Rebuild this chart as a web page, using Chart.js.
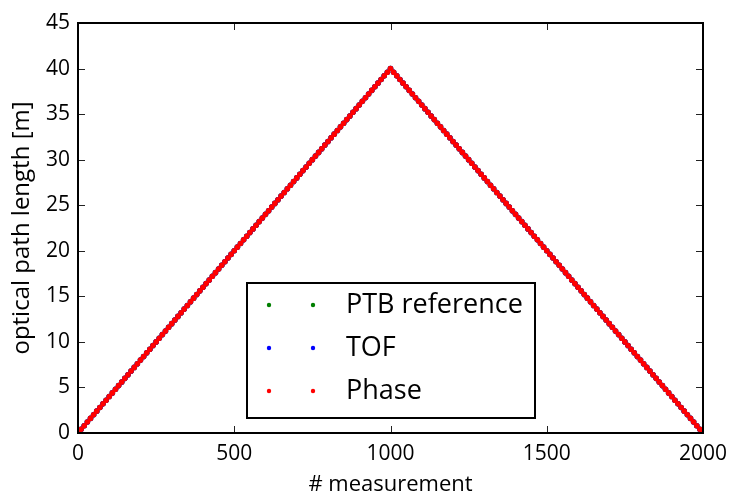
<!DOCTYPE html>
<html>
<head>
<meta charset="utf-8">
<script src="https://cdn.jsdelivr.net/npm/chart.js@4/dist/chart.umd.min.js"></script>
<style>
html,body{margin:0;padding:0;background:#fff;}
#wrap{width:730px;height:495px;position:relative;}
</style>
</head>
<body>
<div id="wrap"><canvas id="c" width="730" height="495"></canvas></div>
<script>
// measurement index
const measurement = [
0,10,20,30,40,50,60,70,80,90,
100,110,120,130,140,150,160,170,180,190,
200,210,220,230,240,250,260,270,280,290,
300,310,320,330,340,350,360,370,380,390,
400,410,420,430,440,450,460,470,480,490,
500,510,520,530,540,550,560,570,580,590,
600,610,620,630,640,650,660,670,680,690,
700,710,720,730,740,750,760,770,780,790,
800,810,820,830,840,850,860,870,880,890,
900,910,920,930,940,950,960,970,980,990,
1000,
1010,1020,1030,1040,1050,1060,1070,1080,1090,1100,
1110,1120,1130,1140,1150,1160,1170,1180,1190,1200,
1210,1220,1230,1240,1250,1260,1270,1280,1290,1300,
1310,1320,1330,1340,1350,1360,1370,1380,1390,1400,
1410,1420,1430,1440,1450,1460,1470,1480,1490,1500,
1510,1520,1530,1540,1550,1560,1570,1580,1590,1600,
1610,1620,1630,1640,1650,1660,1670,1680,1690,1700,
1710,1720,1730,1740,1750,1760,1770,1780,1790,1800,
1810,1820,1830,1840,1850,1860,1870,1880,1890,1900,
1910,1920,1930,1940,1950,1960,1970,1980,1990,2000
];
// optical path length [m] (PTB reference, TOF and Phase coincide)
const pathLength = [
0,0.4,0.8,1.2,1.6,2,2.4,2.8,3.2,3.6,
4,4.4,4.8,5.2,5.6,6,6.4,6.8,7.2,7.6,
8,8.4,8.8,9.2,9.6,10,10.4,10.8,11.2,11.6,
12,12.4,12.8,13.2,13.6,14,14.4,14.8,15.2,15.6,
16,16.4,16.8,17.2,17.6,18,18.4,18.8,19.2,19.6,
20,20.4,20.8,21.2,21.6,22,22.4,22.8,23.2,23.6,
24,24.4,24.8,25.2,25.6,26,26.4,26.8,27.2,27.6,
28,28.4,28.8,29.2,29.6,30,30.4,30.8,31.2,31.6,
32,32.4,32.8,33.2,33.6,34,34.4,34.8,35.2,35.6,
36,36.4,36.8,37.2,37.6,38,38.4,38.8,39.2,39.6,
40,
39.6,39.2,38.8,38.4,38,37.6,37.2,36.8,36.4,36,
35.6,35.2,34.8,34.4,34,33.6,33.2,32.8,32.4,32,
31.6,31.2,30.8,30.4,30,29.6,29.2,28.8,28.4,28,
27.6,27.2,26.8,26.4,26,25.6,25.2,24.8,24.4,24,
23.6,23.2,22.8,22.4,22,21.6,21.2,20.8,20.4,20,
19.6,19.2,18.8,18.4,18,17.6,17.2,16.8,16.4,16,
15.6,15.2,14.8,14.4,14,13.6,13.2,12.8,12.4,12,
11.6,11.2,10.8,10.4,10,9.6,9.2,8.8,8.4,8,
7.6,7.2,6.8,6.4,6,5.6,5.2,4.8,4.4,4,
3.6,3.2,2.8,2.4,2,1.6,1.2,0.8,0.4,0
];
const seriesLabels = ["PTB reference", "TOF", "Phase"];
const seriesColors = ["#007f00", "#0000ff", "#ff0000"];
const xTicks = [0, 500, 1000, 1500, 2000];
const yTicks = [0, 5, 10, 15, 20, 25, 30, 35, 40, 45];

const FONT = "'Open Sans', Lato, sans-serif";

function pts() { return measurement.map((x, i) => ({x: x, y: pathLength[i]})); }

const datasets = seriesLabels.map((lab, i) => ({
  label: lab,
  data: pts(),
  showLine: false,
  pointRadius: 2.8,
  pointHoverRadius: 2.8,
  pointBorderWidth: 0,
  backgroundColor: seriesColors[i],
  borderColor: seriesColors[i],
  order: seriesLabels.length - i
}));

const framePlugin = {
  id: 'frame',
  afterDraw(chart) {
    const ctx = chart.ctx, a = chart.chartArea;
    const xs = chart.scales.x, ys = chart.scales.y;
    ctx.save();
    // inward ticks
    ctx.strokeStyle = '#222';
    ctx.lineWidth = 1;
    const L = 7;
    xTicks.forEach(v => {
      const px = Math.round(xs.getPixelForValue(v)) + 0.5;
      ctx.beginPath();
      ctx.moveTo(px, a.bottom); ctx.lineTo(px, a.bottom - L);
      ctx.moveTo(px, a.top); ctx.lineTo(px, a.top + L);
      ctx.stroke();
    });
    yTicks.forEach(v => {
      const py = Math.round(ys.getPixelForValue(v)) + 0.5;
      ctx.beginPath();
      ctx.moveTo(a.left, py); ctx.lineTo(a.left + L, py);
      ctx.moveTo(a.right, py); ctx.lineTo(a.right - L, py);
      ctx.stroke();
    });
    // frame
    ctx.strokeStyle = '#000';
    ctx.lineWidth = 2;
    ctx.strokeRect(a.left, a.top, a.right - a.left, a.bottom - a.top);

    // legend box
    const bx = 247, bx2 = 535;
    const by = 283, by2 = 418;
    ctx.fillStyle = '#fff';
    ctx.fillRect(bx, by, bx2 - bx, by2 - by);
    ctx.strokeStyle = '#000';
    ctx.lineWidth = 2;
    ctx.strokeRect(bx, by, bx2 - bx, by2 - by);
    const rows = [305, 348, 391];
    ctx.font = "27px " + FONT;
    ctx.textBaseline = 'middle';
    ctx.textAlign = 'left';
    chart.data.datasets.forEach((ds, i) => {
      const y = rows[i];
      ctx.fillStyle = ds.backgroundColor;
      [bx + 22, bx + 66].forEach(cx => {
        ctx.beginPath(); ctx.arc(cx, y, 2.2, 0, Math.PI * 2); ctx.fill();
      });
      ctx.fillStyle = '#000';
      ctx.fillText(ds.label, bx + 99, y);
    });
    ctx.restore();
  }
};

new Chart(document.getElementById('c'), {
  type: 'scatter',
  data: { datasets: datasets },
  options: {
    responsive: false,
    animation: false,
    layout: { padding: { top: 23, right: 27, left: 0, bottom: 0 } },
    plugins: { legend: { display: false }, tooltip: { enabled: false } },
    scales: {
      x: {
        type: 'linear', min: 0, max: 2000,
        afterBuildTicks: s => { s.ticks = xTicks.map(v => ({value: v})); },
        afterFit: s => { s.height = 62; s.paddingLeft = 0; s.paddingRight = 0; },
        grid: { display: false, drawTicks: false },
        border: { display: false },
        ticks: { color: '#000', font: { family: FONT, size: 21 }, padding: 8, maxRotation: 0, callback: v => String(v) },
        title: { display: true, text: '# measurement', color: '#000', font: { family: FONT, size: 22 }, padding: { top: 0, bottom: -3 } }
      },
      y: {
        type: 'linear', min: 0, max: 45,
        afterBuildTicks: s => { s.ticks = yTicks.map(v => ({value: v})); },
        afterFit: s => { s.width = 78; s.paddingTop = 0; s.paddingBottom = 0; },
        grid: { display: false, drawTicks: false },
        border: { display: false },
        ticks: { color: '#000', font: { family: FONT, size: 21 }, padding: 8, callback: v => String(v) },
        title: { display: true, text: 'optical path length [m]', color: '#000', font: { family: FONT, size: 24 }, padding: { top: 8, bottom: 0 } }
      }
    }
  },
  plugins: [framePlugin]
});
</script>
</body>
</html>
